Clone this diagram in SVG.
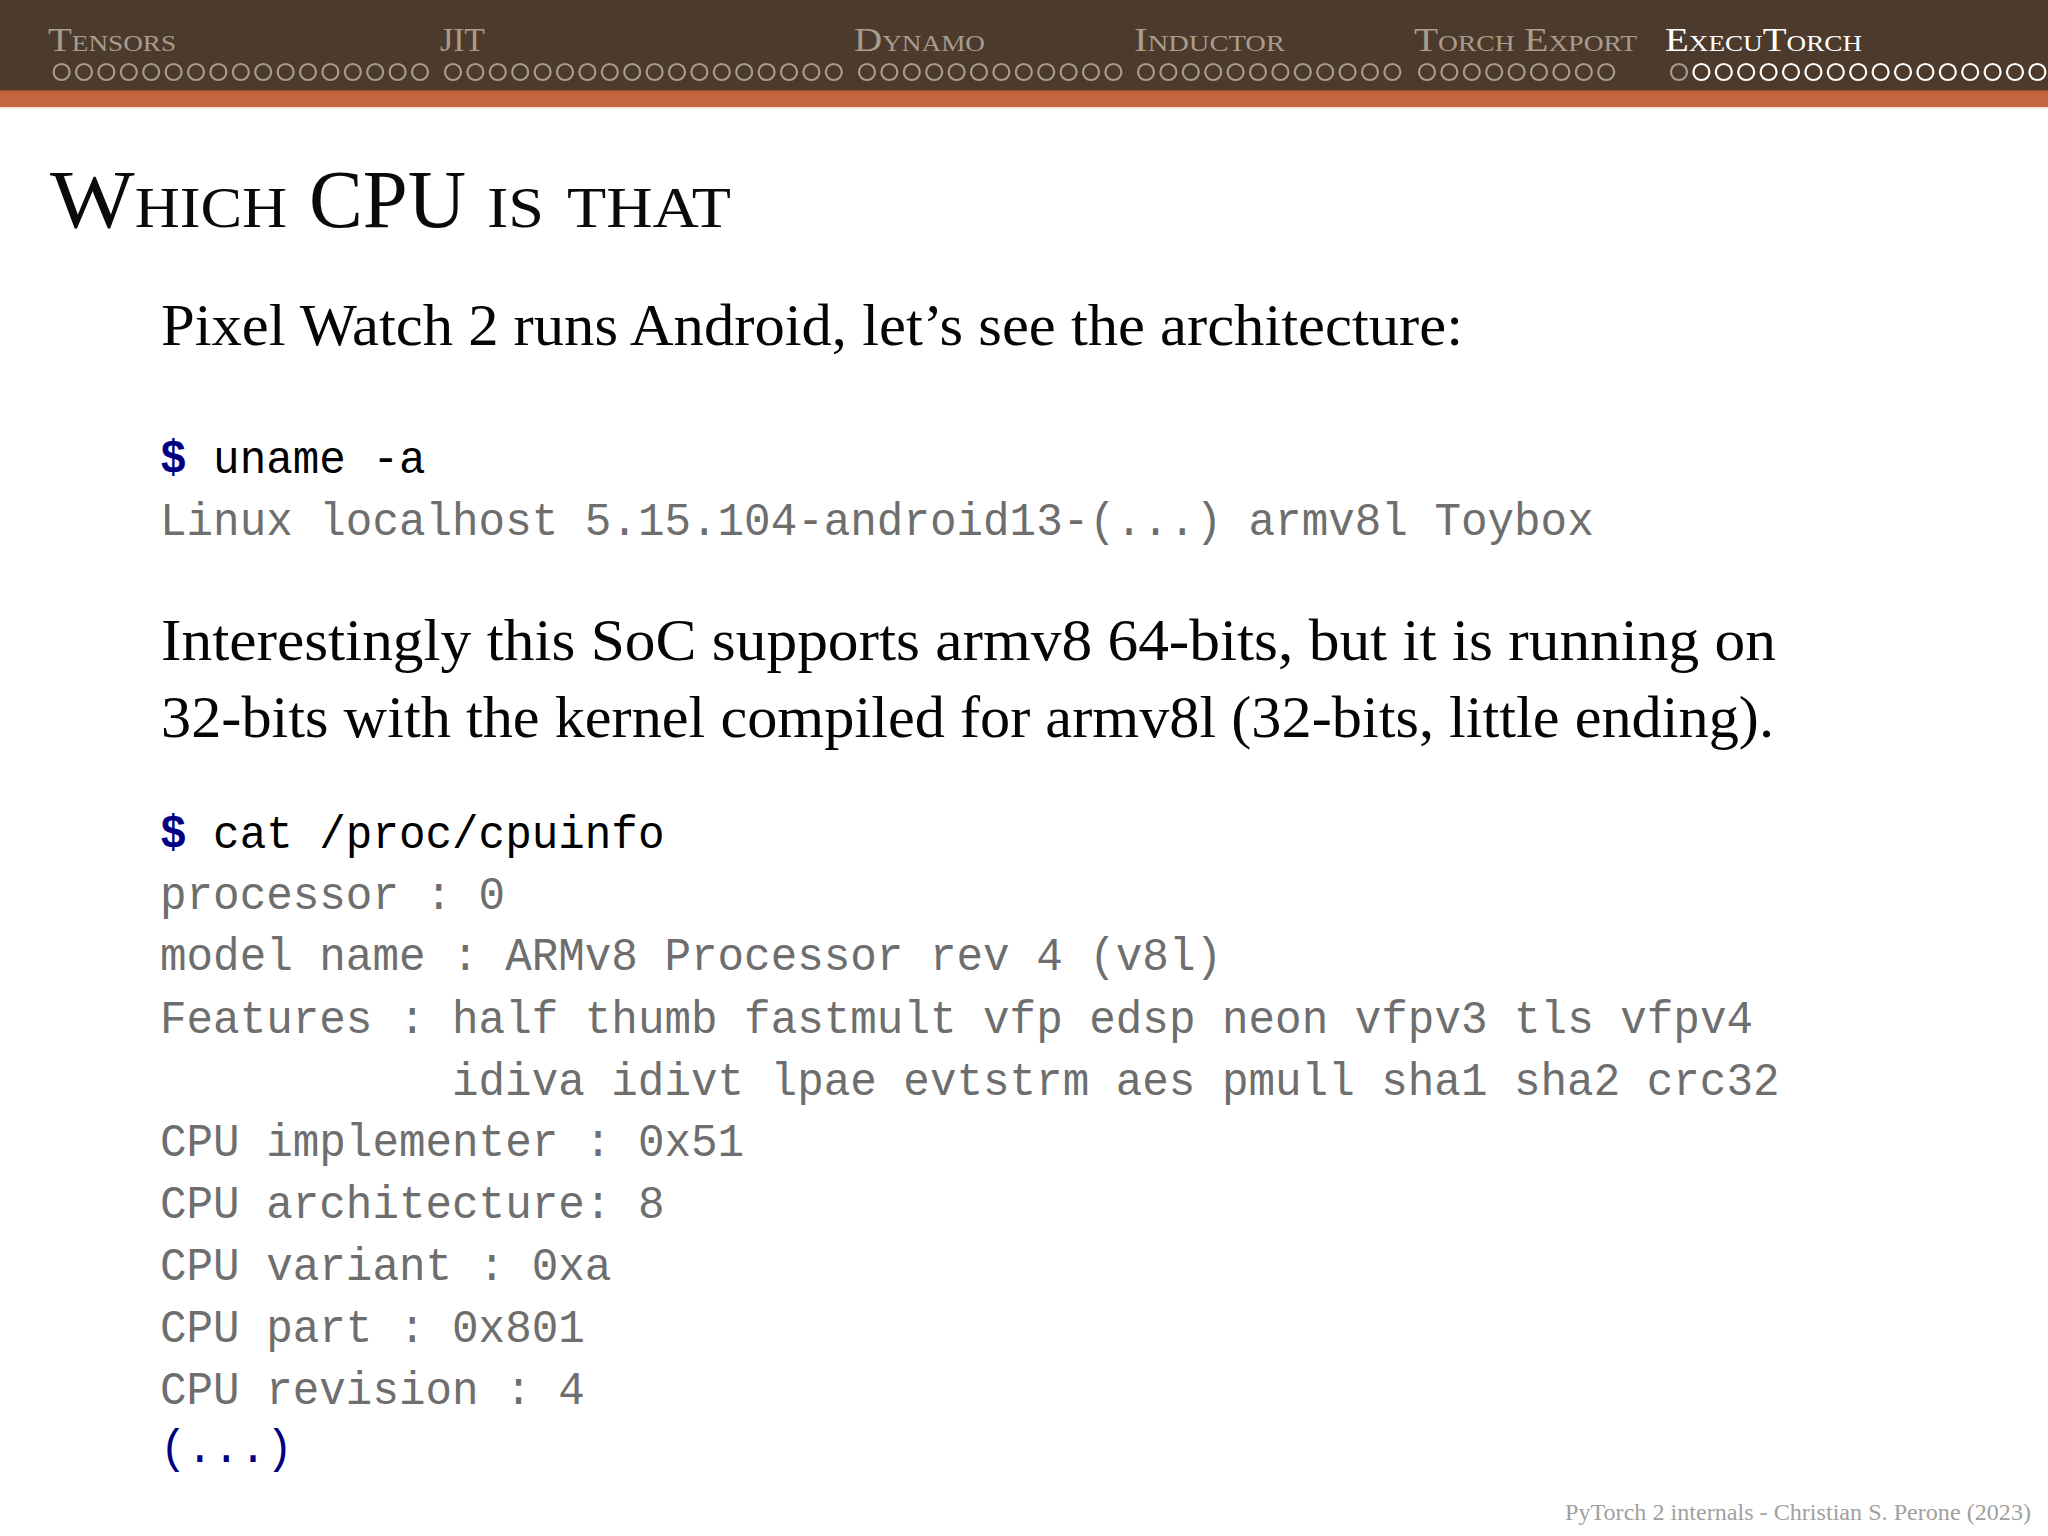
<svg xmlns="http://www.w3.org/2000/svg" width="2048" height="1536" viewBox="0 0 2048 1536">
<style>
.nav{font-family:"Liberation Serif",serif;font-size:33px;font-variant:small-caps;fill:#a89c8d}
.nav.on{fill:#fff}
.d{fill:none;stroke:#a89c8d;stroke-width:2.2}
.d.on{stroke:#fff}
.d circle{r:8px;cy:72px}
.title{font-family:"Liberation Serif",serif;font-size:82px;font-variant:small-caps;fill:#0a0a0a}
.body{font-family:"Liberation Serif",serif;font-size:60px;fill:#050505}
.m{font-family:"Liberation Mono",monospace;font-size:47px;fill:#6e6e6e}
.k{fill:#000}
.b{fill:#000080}
.s{font-weight:bold}
.foot{font-family:"Liberation Serif",serif;font-size:24px;fill:#a0a0a0}
</style>
<rect width="2048" height="1536" fill="#fff"/>
<g id="header">
<rect width="2048" height="91" fill="#4c3a2c"/>
<rect y="91" width="2048" height="16" fill="#c56540"/>
<rect y="90" width="2048" height="1.5" fill="#a04e30"/>
<rect y="107" width="2048" height="1.5" fill="#f8dcc8"/>
</g>
<g id="nav-tensors">
<text class="nav" x="48" y="50.5" textLength="128" lengthAdjust="spacingAndGlyphs">Tensors</text>
<g class="d"><circle cx="61.6"/><circle cx="84"/><circle cx="106.4"/><circle cx="128.8"/><circle cx="151.2"/><circle cx="173.6"/><circle cx="196"/><circle cx="218.4"/><circle cx="240.8"/><circle cx="263.2"/><circle cx="285.6"/><circle cx="308"/><circle cx="330.4"/><circle cx="352.8"/><circle cx="375.2"/><circle cx="397.6"/><circle cx="420"/></g>
</g>
<g id="nav-jit">
<text class="nav" x="440" y="50.5" textLength="45" lengthAdjust="spacingAndGlyphs">JIT</text>
<g class="d"><circle cx="453"/><circle cx="475.4"/><circle cx="497.8"/><circle cx="520.2"/><circle cx="542.6"/><circle cx="565"/><circle cx="587.4"/><circle cx="609.8"/><circle cx="632.2"/><circle cx="654.6"/><circle cx="677"/><circle cx="699.4"/><circle cx="721.8"/><circle cx="744.2"/><circle cx="766.6"/><circle cx="789"/><circle cx="811.4"/><circle cx="833.8"/></g>
</g>
<g id="nav-dynamo">
<text class="nav" x="854" y="50.5" textLength="131" lengthAdjust="spacingAndGlyphs">Dynamo</text>
<g class="d"><circle cx="867"/><circle cx="889.4"/><circle cx="911.8"/><circle cx="934.2"/><circle cx="956.6"/><circle cx="979"/><circle cx="1001.4"/><circle cx="1023.8"/><circle cx="1046.2"/><circle cx="1068.6"/><circle cx="1091"/><circle cx="1113.4"/></g>
</g>
<g id="nav-inductor">
<text class="nav" x="1134" y="50.5" textLength="151" lengthAdjust="spacingAndGlyphs">Inductor</text>
<g class="d"><circle cx="1146"/><circle cx="1168.4"/><circle cx="1190.8"/><circle cx="1213.2"/><circle cx="1235.6"/><circle cx="1258"/><circle cx="1280.4"/><circle cx="1302.8"/><circle cx="1325.2"/><circle cx="1347.6"/><circle cx="1370"/><circle cx="1392.4"/></g>
</g>
<g id="nav-torch-export">
<text class="nav" x="1414" y="50.5" textLength="223" lengthAdjust="spacingAndGlyphs">Torch Export</text>
<g class="d"><circle cx="1427"/><circle cx="1449.4"/><circle cx="1471.8"/><circle cx="1494.2"/><circle cx="1516.6"/><circle cx="1539"/><circle cx="1561.4"/><circle cx="1583.8"/><circle cx="1606.2"/></g>
</g>
<g id="nav-executorch">
<text class="nav on" x="1665" y="50.5" textLength="197" lengthAdjust="spacingAndGlyphs">ExecuTorch</text>
<g class="d"><circle cx="1679"/></g>
<g class="d on"><circle cx="1701.4"/><circle cx="1723.8"/><circle cx="1746.2"/><circle cx="1768.6"/><circle cx="1791"/><circle cx="1813.4"/><circle cx="1835.8"/><circle cx="1858.2"/><circle cx="1880.6"/><circle cx="1903"/><circle cx="1925.4"/><circle cx="1947.8"/><circle cx="1970.2"/><circle cx="1992.6"/><circle cx="2015"/><circle cx="2037.4"/></g>
</g>
<g id="title">
<text class="title" x="50" y="227" textLength="237" lengthAdjust="spacingAndGlyphs">Which</text>
<text class="title" x="309" y="227" textLength="157" lengthAdjust="spacingAndGlyphs">CPU</text>
<text class="title" x="487" y="227" textLength="244" lengthAdjust="spacingAndGlyphs">is that</text>
</g>
<g id="content">
<text class="body" x="161" y="345" textLength="1302" lengthAdjust="spacingAndGlyphs">Pixel Watch 2 runs Android, let’s see the architecture:</text>
<text class="m b s" x="160" y="472" textLength="26.5" lengthAdjust="spacingAndGlyphs">$</text>
<text class="m k" x="213.1" y="472.5" textLength="212.4" lengthAdjust="spacingAndGlyphs">uname -a</text>
<text class="m" x="160" y="534.5" textLength="1433.7" lengthAdjust="spacingAndGlyphs">Linux localhost 5.15.104-android13-(...) armv8l Toybox</text>
<text class="body" x="161" y="660" textLength="1615" lengthAdjust="spacingAndGlyphs">Interestingly this SoC supports armv8 64-bits, but it is running on</text>
<text class="body" x="161" y="736.5" textLength="1613" lengthAdjust="spacingAndGlyphs">32-bits with the kernel compiled for armv8l (32-bits, little ending).</text>
<text class="m b s" x="160" y="847" textLength="26.5" lengthAdjust="spacingAndGlyphs">$</text>
<text class="m k" x="213.1" y="847.5" textLength="451.35" lengthAdjust="spacingAndGlyphs">cat /proc/cpuinfo</text>
<text class="m" x="160" y="908.5" textLength="345.15" lengthAdjust="spacingAndGlyphs">processor : 0</text>
<text class="m" x="160" y="970" textLength="1062" lengthAdjust="spacingAndGlyphs">model name : ARMv8 Processor rev 4 (v8l)</text>
<text class="m" x="160" y="1033" textLength="1593" lengthAdjust="spacingAndGlyphs">Features : half thumb fastmult vfp edsp neon vfpv3 tls vfpv4</text>
<text class="m" x="452" y="1095" textLength="1327.5" lengthAdjust="spacingAndGlyphs">idiva idivt lpae evtstrm aes pmull sha1 sha2 crc32</text>
<text class="m" x="160" y="1156" textLength="584.1" lengthAdjust="spacingAndGlyphs">CPU implementer : 0x51</text>
<text class="m" x="160" y="1217.5" textLength="504.45" lengthAdjust="spacingAndGlyphs">CPU architecture: 8</text>
<text class="m" x="160" y="1279.5" textLength="451.35" lengthAdjust="spacingAndGlyphs">CPU variant : 0xa</text>
<text class="m" x="160" y="1341.5" textLength="424.8" lengthAdjust="spacingAndGlyphs">CPU part : 0x801</text>
<text class="m" x="160" y="1403.5" textLength="424.8" lengthAdjust="spacingAndGlyphs">CPU revision : 4</text>
<text class="m b" x="160" y="1462" textLength="132.75" lengthAdjust="spacingAndGlyphs">(...)</text>
</g>
<text id="footer" class="foot" x="1565" y="1520" textLength="466" lengthAdjust="spacingAndGlyphs">PyTorch 2 internals - Christian S. Perone (2023)</text>
</svg>
